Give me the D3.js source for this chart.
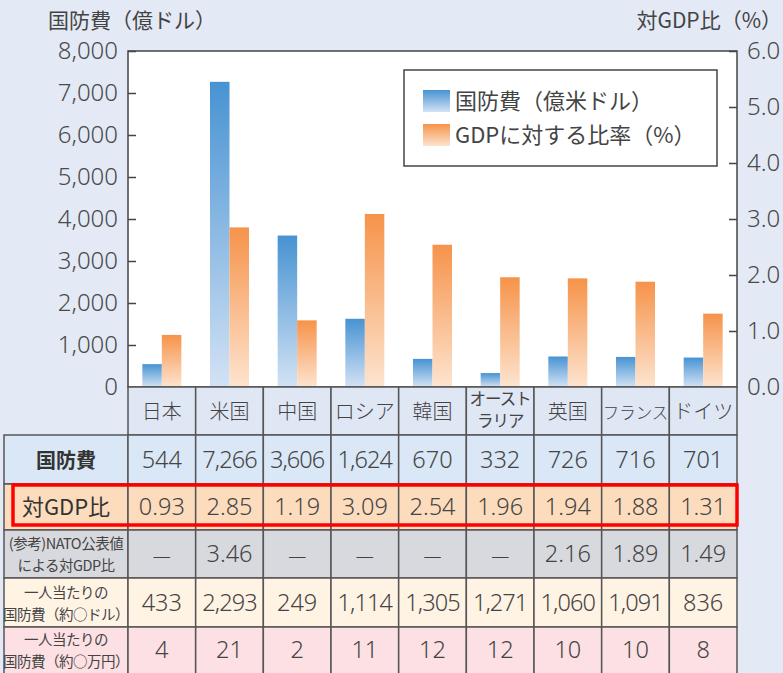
<!DOCTYPE html>
<html>
<head>
<meta charset="utf-8">
<script src="https://cdn.jsdelivr.net/npm/d3@7"></script>
<style>
  body { margin: 0; background: #e3e9f5; }
  svg { display: block; font-family: "Noto Sans CJK JP", "Noto Sans", sans-serif; }
</style>
</head>
<body>
<svg id="chart" width="783" height="673"></svg>
<script>
var countries = ["日本","米国","中国","ロシア","韓国","オーストラリア","英国","フランス","ドイツ"];
var spend     = [544, 7266, 3606, 1624, 670, 332, 726, 716, 701];
var gdpRatio  = [0.93, 2.85, 1.19, 3.09, 2.54, 1.96, 1.94, 1.88, 1.31];
var natoRatio = [null, 3.46, null, null, null, null, 2.16, 1.89, 1.49];
var perUsd    = [433, 2293, 249, 1114, 1305, 1271, 1060, 1091, 836];
var perYen    = [4, 21, 2, 11, 12, 12, 10, 10, 8];
var leftTicks  = [0, 1000, 2000, 3000, 4000, 5000, 6000, 7000, 8000];
var rightTicks = [0, 1, 2, 3, 4, 5, 6];

window.addEventListener( "load", makeChart );
function makeChart() {
    var svg = d3.select( "#chart" );
    var L = 128, R = 737, T = 51, B = 387;
    var numFont = "'Noto Sans', 'Noto Sans CJK JP', sans-serif";

    var x = d3.scaleBand().domain( countries ).range( [L, R] );
    var yL = d3.scaleLinear().domain( [0, 8000] ).range( [B, T] );
    var yR = d3.scaleLinear().domain( [0, 6] ).range( [B, T] );

    var defs = svg.append( "defs" );
    function grad( id, c0, c1 ) {
        var g = defs.append( "linearGradient" ).attr( "id", id )
            .attr( "x1", 0 ).attr( "y1", 0 ).attr( "x2", 0 ).attr( "y2", 1 );
        g.append( "stop" ).attr( "offset", 0 ).attr( "stop-color", c0 );
        g.append( "stop" ).attr( "offset", 1 ).attr( "stop-color", c1 );
    }
    grad( "gBlue", "#4793d2", "#d3e2f5" );
    grad( "gOrange", "#f6934a", "#fde4cf" );

    // plot area
    svg.append( "rect" ).attr( "x", L ).attr( "y", T )
        .attr( "width", R-L ).attr( "height", B-T ).attr( "fill", "#fff" );

    var bw = 19.5;
    svg.selectAll( "rect.blue" ).data( spend ).enter()
        .append( "rect" ).attr( "class", "blue" )
        .attr( "x", (d,i) => x(countries[i]) + x.bandwidth()/2 - bw )
        .attr( "y", d => yL(d) ).attr( "width", bw )
        .attr( "height", d => B - yL(d) ).attr( "fill", "url(#gBlue)" );
    svg.selectAll( "rect.orange" ).data( gdpRatio ).enter()
        .append( "rect" ).attr( "class", "orange" )
        .attr( "x", (d,i) => x(countries[i]) + x.bandwidth()/2 )
        .attr( "y", d => yR(d) ).attr( "width", bw )
        .attr( "height", d => B - yR(d) ).attr( "fill", "url(#gOrange)" );

    // axes (ticks point inward)
    var axL = svg.append( "g" ).attr( "transform", "translate(" + L + ",0)" )
        .call( d3.axisLeft( yL ).tickValues( leftTicks ).tickFormat( d3.format( "," ) )
               .tickSizeInner( -8 ).tickSizeOuter( 0 ).tickPadding( 10 ) );
    var axR = svg.append( "g" ).attr( "transform", "translate(" + R + ",0)" )
        .call( d3.axisRight( yR ).tickValues( rightTicks ).tickFormat( d3.format( ".1f" ) )
               .tickSizeInner( -8 ).tickSizeOuter( 0 ).tickPadding( 10 ) );
    [axL, axR].forEach( function(a) {
        a.select( ".domain" ).remove();
        a.selectAll( "line" ).attr( "stroke", "#444" ).attr( "stroke-width", 1.5 );
        a.selectAll( "text" ).attr( "font-size", 24 ).attr( "fill", "#4a4a4a" )
            .attr( "font-weight", 300 ).attr( "font-family", numFont );
    } );

    svg.append( "rect" ).attr( "x", L ).attr( "y", T )
        .attr( "width", R-L ).attr( "height", B-T )
        .attr( "fill", "none" ).attr( "stroke", "#444" ).attr( "stroke-width", 1.5 );

    // axis titles
    svg.append( "text" ).attr( "x", 48 ).attr( "y", 28 ).attr( "font-size", 21 )
        .attr( "fill", "#444" ).text( "国防費（億ドル）" );
    svg.append( "text" ).attr( "x", 782 ).attr( "y", 28 ).attr( "font-size", 21 )
        .attr( "text-anchor", "end" ).attr( "fill", "#444" ).text( "対GDP比（%）" );

    // legend
    var lg = svg.append( "g" );
    lg.append( "rect" ).attr( "x", 404 ).attr( "y", 70 ).attr( "width", 313 ).attr( "height", 96 )
        .attr( "fill", "#fff" ).attr( "stroke", "#444" ).attr( "stroke-width", 1.5 );
    lg.append( "rect" ).attr( "x", 423 ).attr( "y", 90 ).attr( "width", 27 ).attr( "height", 22 )
        .attr( "fill", "url(#gBlue)" );
    lg.append( "rect" ).attr( "x", 423 ).attr( "y", 124 ).attr( "width", 27 ).attr( "height", 22 )
        .attr( "fill", "url(#gOrange)" );
    lg.append( "text" ).attr( "x", 455 ).attr( "y", 109 ).attr( "font-size", 22 )
        .attr( "fill", "#444" ).text( "国防費（億米ドル）" );
    lg.append( "text" ).attr( "x", 455 ).attr( "y", 143 ).attr( "font-size", 22 )
        .attr( "fill", "#444" ).text( "GDPに対する比率（%）" );

    // table
    var rows = [
        { label: ["国防費"], vals: spend.map( d3.format( "," ) ), bg: "#dae7f6", y0: 435, y1: 484, bold: true },
        { label: ["対GDP比"], vals: gdpRatio.map( d3.format( ".2f" ) ), bg: "#fcdcbd", y0: 484, y1: 530 },
        { label: ["(参考)NATO公表値", "による対GDP比"],
          vals: natoRatio.map( d => d == null ? "—" : d3.format( ".2f" )(d) ), bg: "#d8d9de", y0: 530, y1: 578 },
        { label: ["一人当たりの", "国防費（約○ドル）"], vals: perUsd.map( d3.format( "," ) ), bg: "#fff3e4", y0: 578, y1: 627 },
        { label: ["一人当たりの", "国防費（約○万円）"], vals: perYen.map( String ), bg: "#fde0e3", y0: 627, y1: 690 }
    ];
    var tb = svg.append( "g" );
    var hdrY0 = B, hdrY1 = 435;
    countries.forEach( function(c) {
        tb.append( "rect" ).attr( "x", x(c) ).attr( "y", hdrY0 )
            .attr( "width", x.bandwidth() ).attr( "height", hdrY1-hdrY0 )
            .attr( "fill", "#dfe7f5" ).attr( "stroke", "#555" ).attr( "stroke-width", 1.5 );
        var cx = x(c) + x.bandwidth()/2;
        if ( c === "オーストラリア" ) {
            tb.append( "text" ).attr( "x", cx ).attr( "y", 405 ).attr( "font-size", 16.5 )
                .attr( "text-anchor", "middle" ).attr( "fill", "#444" ).attr( "letter-spacing", -1 ).text( "オースト" );
            tb.append( "text" ).attr( "x", cx ).attr( "y", 427 ).attr( "font-size", 16.5 )
                .attr( "text-anchor", "middle" ).attr( "fill", "#444" ).attr( "letter-spacing", -1 ).text( "ラリア" );
        } else {
            tb.append( "text" ).attr( "x", cx ).attr( "y", 419 )
                .attr( "font-size", c.length > 3 ? 16.5 : 20 )
                .attr( "text-anchor", "middle" ).attr( "fill", "#444" ).attr( "font-weight", 300 )
                .text( c );
        }
    } );

    rows.forEach( function(r) {
        var h = r.y1 - r.y0, cy = (r.y0 + Math.min(r.y1, 673))/2;
        tb.append( "rect" ).attr( "x", 4 ).attr( "y", r.y0 ).attr( "width", L-4 ).attr( "height", h )
            .attr( "fill", r.bg ).attr( "stroke", "#555" ).attr( "stroke-width", 1.5 );
        if ( r.label.length === 1 ) {
            tb.append( "text" ).attr( "x", 66 ).attr( "y", cy + 8 )
                .attr( "font-size", r.bold ? 20 : 22 ).attr( "font-weight", r.bold ? 700 : 400 )
                .attr( "text-anchor", "middle" ).attr( "fill", "#333" ).text( r.label[0] );
        } else {
            r.label.forEach( function(t, k) {
                tb.append( "text" ).attr( "x", 66 ).attr( "y", cy - 5 + k*22 )
                    .attr( "font-size", 14.5 ).attr( "text-anchor", "middle" )
                    .attr( "fill", "#444" ).attr( "letter-spacing", -0.5 ).text( t );
            } );
        }
        r.vals.forEach( function(v, i) {
            var c = countries[i];
            tb.append( "rect" ).attr( "x", x(c) ).attr( "y", r.y0 )
                .attr( "width", x.bandwidth() ).attr( "height", h )
                .attr( "fill", r.bg ).attr( "stroke", "#555" ).attr( "stroke-width", 1.5 );
            tb.append( "text" ).attr( "x", x(c) + x.bandwidth()/2 ).attr( "y", cy + 8 )
                .attr( "font-size", v === "—" ? 18 : 23.5 ).attr( "text-anchor", "middle" )
                .attr( "font-family", numFont ).attr( "font-weight", 300 )
                .attr( "letter-spacing", v.length >= 5 ? -0.9 : 0 )
                .attr( "fill", "#444" ).text( v );
        } );
    } );

    // highlight box
    tb.append( "rect" ).attr( "x", 13 ).attr( "y", 485 ).attr( "width", 724 ).attr( "height", 40 )
        .attr( "fill", "none" ).attr( "stroke", "#f00" ).attr( "stroke-width", 3.5 );
}
</script>
</body>
</html>
